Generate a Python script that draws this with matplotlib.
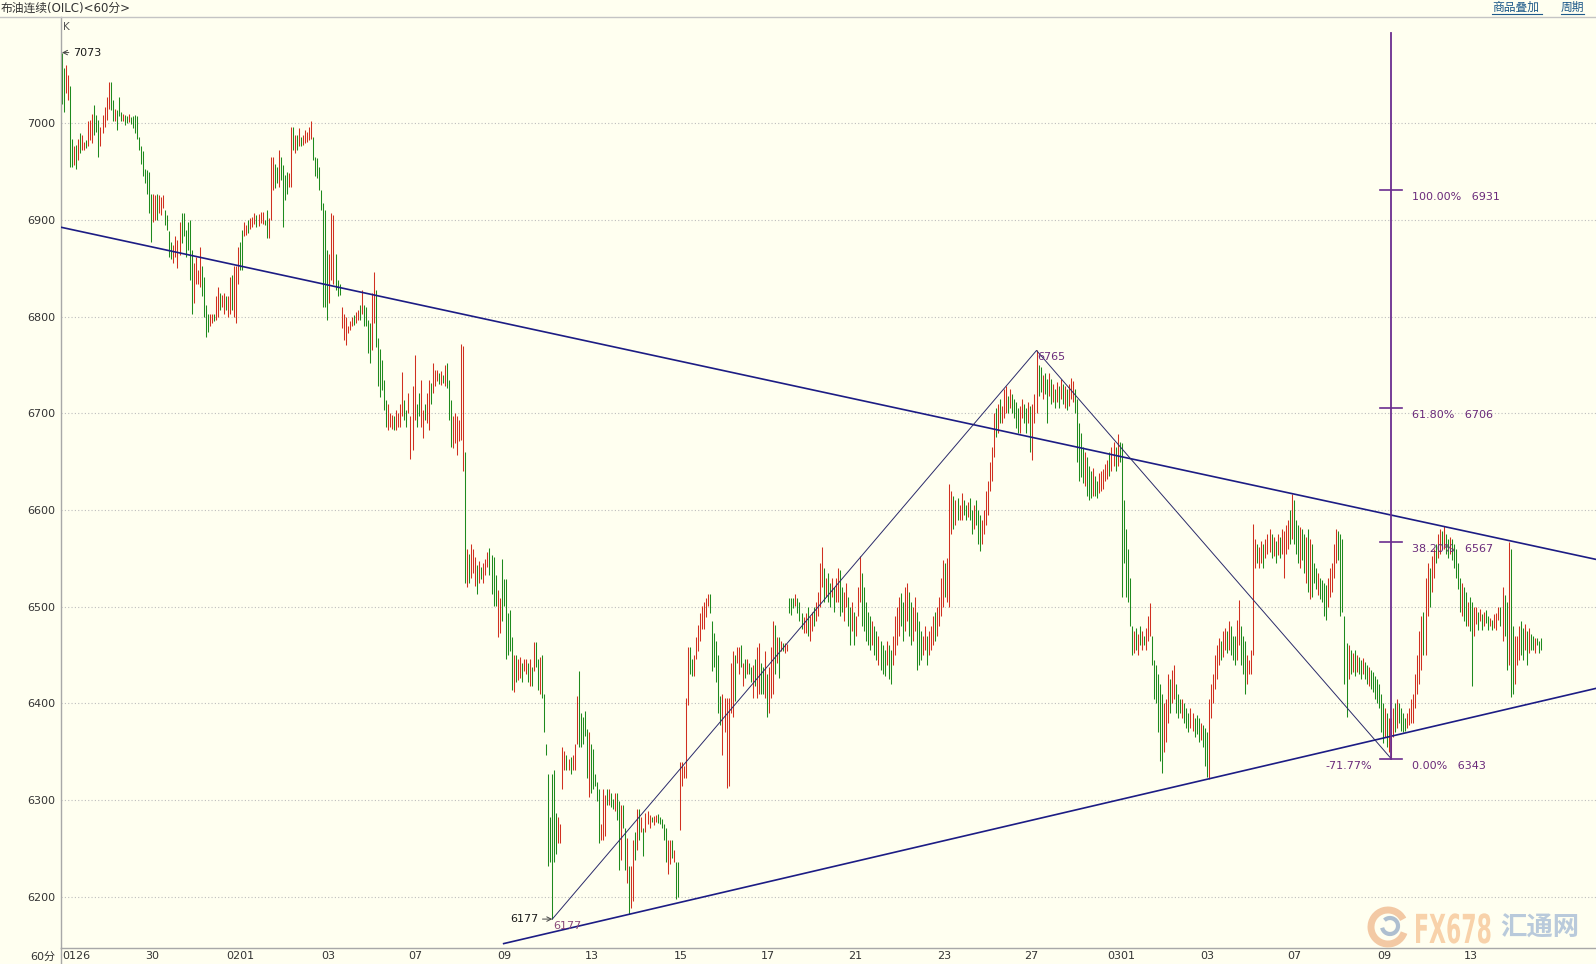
import numpy as np
import matplotlib.pyplot as plt
from matplotlib.lines import Line2D
from matplotlib.patches import Arc, PathPatch
from matplotlib.textpath import TextPath
from matplotlib.font_manager import FontProperties
from matplotlib.transforms import Affine2D

plt.rcParams['font.family'] = ['DejaVu Sans', 'Noto Sans CJK SC']

# 布油连续 60分钟K线: (最高, 最低, 涨跌) ，u = 阳线(红) d = 阴线(绿)
bars_0126 = [
    (7073, 7020, 'd'), (7057, 7012, 'd'), (7060, 7031, 'u'), (7050, 7024, 'u'), (7038, 6955, 'd'),
    (6984, 6955, 'd'), (6976, 6957, 'u'), (6977, 6953, 'd'), (6984, 6962, 'u'), (6990, 6969, 'd'),
    (6988, 6972, 'u'), (6981, 6972, 'u'), (6983, 6974, 'd'), (7002, 6976, 'u'), (7003, 6983, 'u'),
    (7010, 6979, 'u'), (7019, 6988, 'd'), (7008, 6991, 'd'), (7003, 6965, 'd'), (6996, 6976, 'u'),
    (7008, 6990, 'u'), (7017, 6996, 'u'), (7027, 7003, 'u'), (7043, 7015, 'u'), (7043, 7014, 'd'),
    (7024, 7002, 'd'), (7015, 7002, 'u'), (7014, 6993, 'd'), (7027, 7007, 'd'), (7012, 7002, 'd'),
    (7010, 7002, 'u'), (7008, 6998, 'd'), (7007, 7000, 'd'), (7009, 7001, 'u'), (7006, 6999, 'd'),
    (7007, 6995, 'd'), (7008, 6990, 'd'), (7007, 6984, 'd'), (6986, 6972, 'd'), (6976, 6958, 'd'),
    (6971, 6945, 'd'), (6953, 6938, 'd'), (6952, 6927, 'd'), (6950, 6907, 'd'), (6927, 6877, 'd'),
    (6927, 6898, 'u'), (6926, 6900, 'u'), (6927, 6900, 'd'), (6926, 6907, 'u'), (6924, 6905, 'u'),
    (6926, 6912, 'u'), (6910, 6895, 'd'), (6905, 6890, 'd'), (6888, 6862, 'd'), (6877, 6860, 'd'),
    (6874, 6855, 'u'), (6883, 6862, 'u'), (6879, 6850, 'u'), (6898, 6864, 'u'), (6907, 6876, 'd'),
    (6907, 6883, 'd'), (6890, 6862, 'd'), (6898, 6869, 'd'), (6900, 6838, 'd'), (6869, 6803, 'd'),
    (6855, 6814, 'u'), (6862, 6834, 'u'), (6848, 6834, 'u'), (6872, 6831, 'u'), (6852, 6821, 'd'),
    (6841, 6800, 'd'), (6812, 6779, 'd'), (6803, 6784, 'd'), (6803, 6790, 'u'), (6803, 6793, 'u'),
    (6803, 6795, 'd'), (6821, 6796, 'u'), (6831, 6800, 'u'), (6824, 6807, 'd'), (6822, 6810, 'u'),
]
bars_0202 = [
    (6824, 6803, 'u'), (6821, 6807, 'd'), (6821, 6800, 'u'), (6841, 6803, 'u'), (6843, 6807, 'd'),
    (6852, 6800, 'u'), (6852, 6793, 'u'), (6872, 6834, 'u'), (6877, 6848, 'd'), (6890, 6848, 'd'),
    (6898, 6883, 'u'), (6895, 6884, 'u'), (6900, 6886, 'd'), (6902, 6891, 'u'), (6903, 6893, 'u'),
    (6907, 6896, 'u'), (6905, 6893, 'd'), (6906, 6894, 'u'), (6908, 6897, 'u'), (6908, 6896, 'u'),
    (6900, 6895, 'd'), (6910, 6881, 'd'), (6902, 6881, 'u'), (6965, 6900, 'u'), (6965, 6931, 'u'),
    (6958, 6933, 'd'), (6955, 6938, 'd'), (6972, 6934, 'u'), (6965, 6941, 'd'), (6957, 6893, 'd'),
    (6946, 6921, 'd'), (6950, 6927, 'd'), (6948, 6934, 'u'), (6996, 6934, 'u'), (6996, 6972, 'd'),
    (6988, 6969, 'u'), (6988, 6972, 'd'), (6995, 6976, 'u'), (6986, 6976, 'd'), (6988, 6977, 'u'),
    (6993, 6979, 'u'), (6991, 6981, 'u'), (6996, 6983, 'u'), (7002, 6984, 'u'), (6986, 6962, 'd'),
    (6965, 6945, 'd'), (6964, 6943, 'd'), (6955, 6931, 'd'), (6931, 6910, 'd'), (6917, 6810, 'd'),
    (6910, 6810, 'd'), (6869, 6796, 'd'), (6865, 6814, 'u'), (6907, 6838, 'u'), (6905, 6834, 'u'),
    (6865, 6827, 'd'), (6838, 6821, 'd'), (6834, 6822, 'd'), (6810, 6788, 'u'), (6803, 6776, 'u'),
    (6800, 6771, 'u'), (6790, 6783, 'u'), (6795, 6786, 'u'), (6800, 6790, 'u'), (6802, 6791, 'd'),
    (6805, 6793, 'u'), (6807, 6796, 'u'), (6812, 6796, 'd'), (6827, 6803, 'u'), (6812, 6790, 'd'),
    (6810, 6790, 'd'), (6796, 6762, 'd'), (6793, 6752, 'd'), (6824, 6765, 'u'), (6846, 6793, 'u'),
    (6827, 6769, 'd'), (6778, 6728, 'd'), (6767, 6717, 'd'), (6755, 6724, 'd'), (6734, 6703, 'd'),
    (6714, 6686, 'd'), (6710, 6683, 'u'), (6700, 6686, 'u'), (6698, 6684, 'u'), (6697, 6683, 'd'),
    (6703, 6683, 'u'), (6700, 6686, 'u'), (6710, 6686, 'u'), (6743, 6697, 'u'), (6714, 6693, 'd'),
    (6703, 6686, 'd'), (6721, 6700, 'u'), (6697, 6653, 'u'), (6728, 6662, 'u'), (6760, 6693, 'u'),
    (6710, 6686, 'd'), (6721, 6697, 'd'), (6734, 6686, 'u'), (6703, 6674, 'u'), (6710, 6693, 'd'),
    (6721, 6690, 'u'), (6734, 6683, 'u'), (6731, 6710, 'd'), (6752, 6721, 'u'), (6745, 6728, 'u'),
    (6745, 6733, 'u'), (6742, 6730, 'd'), (6744, 6729, 'u'), (6740, 6731, 'd'), (6750, 6728, 'u'),
    (6752, 6726, 'd'), (6734, 6693, 'd'), (6714, 6665, 'd'), (6697, 6664, 'u'), (6700, 6669, 'u'),
    (6697, 6657, 'u'), (6693, 6671, 'u'), (6772, 6672, 'u'), (6770, 6640, 'u'),
]
bars_0208 = [
    (6660, 6525, 'd'), (6560, 6520, 'u'), (6555, 6525, 'd'), (6565, 6530, 'u'), (6560, 6535, 'u'),
    (6551, 6521, 'u'), (6543, 6513, 'd'), (6547, 6525, 'u'), (6541, 6529, 'd'), (6545, 6525, 'u'),
    (6549, 6533, 'u'), (6557, 6541, 'u'), (6561, 6533, 'd'), (6553, 6513, 'd'), (6551, 6501, 'd'),
    (6533, 6501, 'd'), (6517, 6469, 'u'), (6509, 6473, 'u'), (6549, 6485, 'd'), (6529, 6501, 'd'),
    (6529, 6446, 'd'), (6493, 6450, 'd'), (6497, 6454, 'd'), (6469, 6414, 'd'), (6450, 6412, 'u'),
    (6450, 6422, 'd'), (6446, 6424, 'u'), (6448, 6426, 'u'), (6442, 6422, 'd'), (6446, 6434, 'u'),
    (6446, 6430, 'u'), (6442, 6422, 'd'), (6446, 6418, 'u'), (6438, 6418, 'd'), (6464, 6434, 'u'),
    (6464, 6438, 'd'), (6446, 6414, 'd'), (6448, 6410, 'u'), (6450, 6406, 'd'), (6410, 6370, 'd'),
    (6358, 6347, 'd'), (6327, 6232, 'd'), (6283, 6236, 'd'), (6327, 6177, 'd'), (6331, 6236, 'd'),
    (6287, 6244, 'd'), (6283, 6256, 'u'), (6275, 6256, 'u'), (6355, 6311, 'u'), (6351, 6331, 'u'),
    (6347, 6331, 'd'), (6343, 6331, 'u'), (6345, 6327, 'd'), (6347, 6331, 'u'), (6358, 6331, 'u'),
    (6408, 6358, 'u'), (6434, 6355, 'd'), (6390, 6355, 'd'), (6386, 6358, 'd'), (6392, 6366, 'd'),
    (6374, 6323, 'd'), (6370, 6303, 'u'), (6358, 6307, 'd'), (6353, 6311, 'd'), (6327, 6315, 'd'),
    (6319, 6299, 'd'), (6311, 6256, 'd'), (6275, 6259, 'u'), (6311, 6259, 'u'), (6305, 6263, 'u'),
    (6311, 6295, 'd'), (6311, 6295, 'u'), (6307, 6293, 'd'), (6301, 6291, 'd'), (6307, 6289, 'u'),
    (6307, 6279, 'd'), (6299, 6228, 'd'), (6295, 6238, 'u'), (6295, 6271, 'd'), (6271, 6228, 'd'),
    (6261, 6214, 'u'), (6232, 6182, 'd'), (6232, 6188, 'u'), (6259, 6196, 'u'), (6267, 6238, 'd'),
    (6291, 6248, 'u'), (6291, 6259, 'd'), (6283, 6267, 'u'), (6271, 6242, 'd'), (6287, 6267, 'u'),
    (6289, 6275, 'u'), (6285, 6271, 'u'), (6283, 6277, 'd'), (6284, 6274, 'u'), (6285, 6277, 'u'),
    (6286, 6276, 'd'), (6283, 6275, 'd'), (6281, 6271, 'd'), (6275, 6259, 'd'), (6271, 6236, 'd'),
    (6259, 6224, 'u'), (6259, 6234, 'u'), (6259, 6240, 'd'), (6248, 6236, 'u'), (6236, 6198, 'd'),
    (6236, 6200, 'd'), (6339, 6269, 'u'), (6339, 6315, 'u'), (6335, 6323, 'u'), (6406, 6323, 'u'),
    (6458, 6398, 'u'), (6458, 6430, 'd'), (6446, 6428, 'd'), (6450, 6428, 'u'), (6469, 6446, 'u'),
    (6481, 6454, 'u'), (6493, 6465, 'u'), (6501, 6477, 'u'), (6505, 6477, 'u'), (6509, 6489, 'u'),
    (6513, 6501, 'u'), (6513, 6493, 'd'), (6485, 6434, 'd'), (6473, 6438, 'd'), (6465, 6422, 'd'),
    (6450, 6390, 'd'), (6408, 6378, 'd'), (6410, 6347, 'u'), (6406, 6370, 'u'), (6406, 6313, 'u'),
    (6406, 6315, 'u'), (6442, 6390, 'u'), (6454, 6386, 'u'), (6450, 6402, 'd'), (6458, 6442, 'u'),
    (6458, 6430, 'u'), (6460, 6438, 'd'), (6442, 6418, 'u'), (6446, 6426, 'd'), (6446, 6430, 'u'),
    (6442, 6430, 'd'), (6438, 6422, 'd'), (6440, 6406, 'u'), (6446, 6418, 'd'), (6458, 6406, 'u'),
    (6462, 6410, 'u'), (6442, 6410, 'd'), (6438, 6410, 'd'), (6454, 6406, 'u'), (6430, 6386, 'd'),
    (6438, 6390, 'u'), (6458, 6406, 'u'), (6485, 6410, 'u'), (6481, 6430, 'd'), (6469, 6442, 'u'),
    (6469, 6426, 'd'), (6465, 6454, 'u'), (6463, 6454, 'd'), (6462, 6452, 'u'), (6461, 6454, 'u'),
    (6509, 6493, 'd'), (6509, 6491, 'd'), (6509, 6499, 'd'), (6513, 6501, 'u'), (6509, 6493, 'd'),
    (6505, 6485, 'd'), (6493, 6477, 'd'), (6489, 6473, 'u'), (6493, 6473, 'u'),
]
bars_0219 = [
    (6500, 6470, 'd'), (6490, 6465, 'u'), (6495, 6475, 'u'), (6500, 6480, 'd'), (6505, 6485, 'u'),
    (6515, 6490, 'u'), (6545, 6500, 'u'), (6562, 6520, 'u'), (6540, 6505, 'd'), (6530, 6510, 'u'),
    (6535, 6505, 'd'), (6525, 6500, 'd'), (6530, 6510, 'u'), (6520, 6495, 'd'), (6530, 6505, 'u'),
    (6540, 6505, 'u'), (6538, 6490, 'd'), (6520, 6495, 'd'), (6515, 6485, 'u'), (6525, 6500, 'u'),
    (6510, 6480, 'd'), (6500, 6460, 'd'), (6505, 6475, 'u'), (6495, 6460, 'd'), (6490, 6470, 'u'),
    (6520, 6490, 'u'), (6552, 6505, 'u'), (6535, 6480, 'd'), (6520, 6475, 'd'), (6505, 6465, 'd'),
    (6495, 6460, 'd'), (6490, 6455, 'd'), (6485, 6460, 'u'), (6480, 6450, 'd'), (6475, 6445, 'd'),
    (6470, 6440, 'u'), (6465, 6435, 'd'), (6460, 6430, 'd'), (6455, 6428, 'd'), (6465, 6440, 'u'),
    (6460, 6425, 'd'), (6455, 6420, 'd'), (6470, 6440, 'u'), (6490, 6450, 'u'), (6500, 6460, 'u'),
    (6510, 6470, 'u'), (6514, 6480, 'd'), (6505, 6465, 'd'), (6520, 6475, 'u'), (6525, 6485, 'u'),
    (6515, 6470, 'd'), (6505, 6460, 'd'), (6500, 6465, 'u'), (6510, 6475, 'u'), (6495, 6435, 'd'),
    (6485, 6440, 'd'), (6475, 6445, 'd'), (6470, 6450, 'u'), (6480, 6455, 'u'), (6470, 6440, 'd'),
    (6475, 6450, 'u'), (6480, 6455, 'u'), (6490, 6460, 'u'), (6495, 6465, 'd'), (6500, 6470, 'u'),
    (6510, 6480, 'u'), (6530, 6490, 'u'), (6548, 6500, 'u'), (6545, 6510, 'd'), (6550, 6505, 'u'),
    (6627, 6500, 'u'), (6620, 6575, 'u'), (6615, 6580, 'd'), (6610, 6585, 'u'), (6612, 6590, 'd'),
    (6605, 6590, 'u'), (6618, 6590, 'u'), (6610, 6595, 'd'), (6605, 6590, 'd'), (6608, 6593, 'u'),
    (6612, 6590, 'd'), (6600, 6575, 'd'), (6605, 6580, 'u'), (6610, 6585, 'd'), (6600, 6565, 'd'),
    (6595, 6558, 'd'), (6590, 6565, 'u'), (6600, 6575, 'u'), (6620, 6585, 'u'), (6630, 6595, 'u'),
    (6650, 6620, 'u'), (6665, 6630, 'u'), (6700, 6655, 'u'), (6705, 6675, 'd'), (6710, 6680, 'u'),
    (6715, 6690, 'd'), (6708, 6690, 'u'), (6725, 6695, 'u'), (6728, 6700, 'u'), (6718, 6700, 'd'),
    (6725, 6705, 'u'), (6720, 6700, 'd'), (6715, 6695, 'd'), (6712, 6685, 'd'), (6705, 6680, 'd'),
    (6708, 6680, 'u'), (6715, 6695, 'u'), (6710, 6690, 'd'), (6705, 6680, 'd'), (6712, 6690, 'u'),
    (6708, 6660, 'd'), (6710, 6652, 'u'), (6720, 6690, 'u'), (6765, 6700, 'u'), (6750, 6718, 'd'),
]
bars_0227 = [
    (6748, 6722, 'd'), (6740, 6715, 'u'), (6742, 6720, 'd'), (6735, 6690, 'd'), (6742, 6718, 'u'),
    (6735, 6710, 'd'), (6730, 6712, 'u'), (6725, 6705, 'd'), (6732, 6712, 'u'), (6728, 6705, 'd'),
    (6735, 6715, 'u'), (6730, 6710, 'd'), (6728, 6705, 'u'), (6725, 6703, 'd'), (6730, 6708, 'u'),
    (6736, 6715, 'u'), (6733, 6712, 'u'), (6725, 6700, 'd'), (6715, 6650, 'd'), (6690, 6630, 'd'),
    (6680, 6634, 'd'), (6665, 6628, 'd'), (6660, 6625, 'u'), (6655, 6615, 'd'), (6645, 6610, 'd'),
    (6640, 6612, 'd'), (6643, 6615, 'u'), (6635, 6614, 'd'), (6630, 6612, 'd'), (6638, 6618, 'u'),
    (6640, 6620, 'u'), (6642, 6622, 'u'), (6648, 6630, 'u'), (6652, 6632, 'u'), (6660, 6635, 'd'),
    (6665, 6640, 'u'), (6670, 6645, 'u'), (6665, 6640, 'd'), (6679, 6645, 'u'), (6670, 6650, 'd'),
    (6669, 6510, 'd'), (6610, 6545, 'd'), (6580, 6510, 'd'), (6560, 6505, 'd'), (6530, 6480, 'd'),
    (6480, 6450, 'd'), (6475, 6452, 'u'), (6478, 6455, 'd'), (6472, 6450, 'u'), (6480, 6460, 'd'),
    (6475, 6455, 'u'), (6470, 6460, 'd'), (6478, 6455, 'u'), (6490, 6465, 'u'), (6504, 6470, 'u'),
    (6470, 6440, 'd'), (6445, 6405, 'd'), (6440, 6400, 'd'), (6430, 6370, 'd'), (6420, 6340, 'd'),
    (6410, 6328, 'd'), (6400, 6350, 'u'), (6405, 6360, 'u'), (6430, 6380, 'u'), (6425, 6390, 'd'),
    (6435, 6400, 'u'), (6440, 6405, 'u'), (6420, 6390, 'd'), (6410, 6385, 'd'), (6405, 6390, 'd'),
    (6405, 6385, 'u'), (6400, 6380, 'd'), (6395, 6375, 'd'), (6390, 6370, 'd'), (6395, 6375, 'u'),
    (6390, 6372, 'u'), (6385, 6365, 'd'), (6388, 6368, 'd'), (6385, 6360, 'd'), (6380, 6362, 'u'),
    (6378, 6355, 'd'), (6375, 6335, 'd'), (6370, 6324, 'd'), (6405, 6322, 'u'), (6420, 6385, 'u'),
    (6430, 6400, 'u'), (6450, 6415, 'u'), (6460, 6425, 'u'), (6468, 6440, 'u'), (6465, 6445, 'd'),
    (6475, 6448, 'u'), (6478, 6455, 'u'), (6475, 6452, 'd'), (6485, 6455, 'u'), (6480, 6450, 'd'),
    (6470, 6445, 'd'), (6470, 6440, 'd'), (6486, 6445, 'u'), (6507, 6460, 'u'), (6480, 6440, 'd'),
    (6470, 6430, 'd'), (6465, 6410, 'd'), (6450, 6420, 'u'), (6445, 6430, 'u'), (6455, 6430, 'u'),
]
bars_0305 = [
    (6586, 6450, 'u'), (6570, 6540, 'u'), (6565, 6545, 'd'), (6562, 6540, 'u'), (6568, 6545, 'u'),
    (6565, 6540, 'd'), (6570, 6550, 'u'), (6575, 6555, 'u'), (6580, 6557, 'u'), (6575, 6550, 'd'),
    (6572, 6552, 'u'), (6568, 6545, 'd'), (6575, 6553, 'u'), (6572, 6550, 'd'), (6580, 6555, 'u'),
    (6578, 6530, 'u'), (6585, 6555, 'u'), (6590, 6560, 'u'), (6600, 6565, 'd'), (6617, 6570, 'u'),
    (6610, 6565, 'd'), (6590, 6555, 'd'), (6585, 6545, 'd'), (6582, 6540, 'u'), (6580, 6548, 'd'),
    (6575, 6535, 'd'), (6572, 6525, 'u'), (6580, 6515, 'd'), (6570, 6508, 'u'), (6565, 6510, 'd'),
    (6545, 6525, 'd'), (6540, 6518, 'd'), (6535, 6512, 'u'), (6530, 6508, 'd'), (6528, 6505, 'd'),
    (6525, 6490, 'd'), (6522, 6486, 'd'), (6530, 6500, 'u'), (6540, 6510, 'u'), (6545, 6515, 'u'),
    (6565, 6530, 'u'), (6580, 6545, 'u'), (6578, 6548, 'd'), (6575, 6490, 'd'), (6570, 6495, 'd'),
    (6490, 6420, 'd'), (6462, 6386, 'd'), (6460, 6425, 'u'), (6455, 6430, 'd'), (6452, 6432, 'u'),
    (6455, 6428, 'd'), (6450, 6432, 'u'), (6448, 6430, 'd'), (6445, 6425, 'd'), (6447, 6430, 'u'),
    (6443, 6425, 'd'), (6440, 6420, 'd'), (6438, 6418, 'u'), (6435, 6415, 'd'), (6432, 6412, 'd'),
    (6428, 6405, 'd'), (6425, 6400, 'd'), (6420, 6395, 'd'), (6410, 6370, 'd'), (6400, 6359, 'd'),
    (6395, 6365, 'u'), (6390, 6355, 'd'), (6385, 6350, 'u'), (6385, 6343, 'u'), (6395, 6365, 'u'),
    (6400, 6370, 'd'), (6405, 6375, 'u'), (6400, 6380, 'd'), (6395, 6372, 'd'), (6390, 6370, 'd'),
    (6385, 6372, 'd'), (6390, 6375, 'u'), (6395, 6378, 'u'), (6405, 6380, 'u'), (6410, 6380, 'u'),
    (6430, 6395, 'u'), (6450, 6410, 'u'), (6475, 6420, 'u'), (6490, 6435, 'u'), (6495, 6450, 'd'),
    (6530, 6450, 'u'), (6545, 6490, 'u'), (6540, 6500, 'd'), (6552, 6515, 'u'), (6560, 6530, 'u'),
    (6565, 6545, 'd'), (6575, 6550, 'u'), (6580, 6555, 'u'), (6578, 6560, 'd'), (6583, 6560, 'u'),
    (6575, 6555, 'd'), (6570, 6550, 'd'), (6572, 6555, 'u'), (6570, 6548, 'd'), (6565, 6540, 'd'),
    (6560, 6530, 'd'), (6545, 6518, 'd'), (6530, 6495, 'd'), (6525, 6490, 'u'), (6520, 6485, 'd'),
    (6515, 6480, 'd'), (6505, 6480, 'u'), (6510, 6475, 'd'), (6505, 6418, 'd'), (6500, 6470, 'u'),
    (6500, 6482, 'u'), (6495, 6476, 'd'), (6498, 6485, 'u'), (6492, 6476, 'd'), (6495, 6480, 'u'),
    (6497, 6483, 'd'), (6490, 6476, 'd'), (6488, 6480, 'u'), (6486, 6476, 'd'), (6492, 6478, 'u'),
    (6494, 6476, 'u'), (6500, 6486, 'u'), (6500, 6480, 'd'), (6520, 6465, 'u'), (6512, 6470, 'd'),
    (6505, 6435, 'd'), (6567, 6440, 'u'), (6560, 6407, 'd'), (6480, 6410, 'd'), (6470, 6420, 'u'),
    (6470, 6440, 'u'), (6480, 6445, 'u'), (6485, 6450, 'd'), (6478, 6445, 'd'), (6482, 6455, 'u'),
    (6475, 6440, 'd'), (6478, 6452, 'u'), (6472, 6455, 'd'), (6470, 6455, 'd'), (6468, 6452, 'u'),
    (6468, 6460, 'd'), (6465, 6452, 'd'), (6468, 6455, 'd'),
]

date_labels = ['0126', '30', '0201', '03', '07', '09', '13', '15', '17', '21',
               '23', '27', '0301', '03', '07', '09', '13']
date_bar = [0, 41, 81, 128, 171, 215, 258, 302, 345, 388, 432, 475, 516, 562, 605, 649, 692]

fib_pct = ['100.00%', '61.80%', '38.20%', '0.00%']
fib_price = [6931, 6706, 6567, 6343]
fib_top = 7093

bars = bars_0126 + bars_0202 + bars_0208 + bars_0219 + bars_0227 + bars_0305
hi = np.array([b[0] for b in bars], float)
lo = np.array([b[1] for b in bars], float)
up = np.array([b[2] == 'u' for b in bars])
n = len(bars)
x = np.arange(n)

# 关键点
i_first = 0
i_low = int(np.argmin(lo))                       # 6177
i_top = 300 + int(np.argmax(hi[300:]))           # 6765
i_fib = 600 + int(np.argmin(lo[600:]))           # 6343
u1 = 590 + int(np.argmax(hi[590:620]))
u2 = 670 + int(np.argmax(hi[670:700]))
l1 = 270 + int(np.argmin(lo[270:290]))
l2 = 550 + int(np.argmin(lo[550:580]))

W, H = 1596, 964
bg = '#FFFFF0'
red, green = '#D03020', '#1E8A1E'
navy = '#1C1C84'
purple = '#6B2D8F'
pk = 0.72  # px -> pt

fig = plt.figure(figsize=(W / 100, H / 100), dpi=100, facecolor=bg)
ax = fig.add_axes([61 / W, 1 - 948 / H, (W - 61) / W, (948 - 17) / H])
ax.set_facecolor(bg)

sp = (1541 - 62) / (n - 1)
x0, x1 = (61 - 62) / sp, (W - 62) / sp
ax.set_xlim(x0, x1)
ax.set_ylim(6147.1, 7109.8)

ax.vlines(x, lo, hi, colors=np.where(up, red, green), lw=0.75, zorder=2)

# 趋势线
k_up = (hi[u2] - hi[u1]) / (u2 - u1)
xs = np.array([x0, x1])
ax.plot(xs, hi[u1] + k_up * (xs - u1), color=navy, lw=1.2, zorder=3)
k_lo = (lo[l2] - lo[l1]) / (l2 - l1)
lower_start = 218
xs = np.array([lower_start, x1])
ax.plot(xs, lo[l1] + k_lo * (xs - l1), color=navy, lw=1.2, zorder=3)

# 折线 6177 -> 6765 -> 6343
ax.plot([i_low, i_top, i_fib], [lo[i_low], hi[i_top], lo[i_fib]],
        color='#2A2A6A', lw=0.7, zorder=3)

# 黄金分割
ax.plot([i_fib, i_fib], [lo[i_fib], fib_top], color=purple, lw=1.3, zorder=4)
for p, v in zip(fib_pct, fib_price):
    ax.plot([i_fib - 5.3, i_fib + 5.3], [v, v], color=purple, lw=1.2, zorder=4)
    ax.annotate(p + '   ' + str(v), xy=(i_fib, v), xytext=(21 * pk, -7 * pk),
                textcoords='offset points', ha='left', va='center',
                fontsize=8, color='#6A2A7A')
ax.annotate('-71.77%', xy=(i_fib, fib_price[-1]), xytext=(-19 * pk, -7 * pk),
            textcoords='offset points', ha='right', va='center', fontsize=8, color='#6A2A7A')

# 标注
ax.annotate('7073', xy=(i_first, hi[i_first]), xytext=(11 * pk, 0),
            textcoords='offset points', ha='left', va='center', fontsize=8, color='#1a1a1a',
            arrowprops=dict(arrowstyle='->', color='#444', lw=0.7, shrinkA=1, shrinkB=0))
ax.annotate('6177', xy=(i_low, lo[i_low]), xytext=(-14 * pk, 0),
            textcoords='offset points', ha='right', va='center', fontsize=8, color='#1a1a1a',
            arrowprops=dict(arrowstyle='->', color='#444', lw=0.7, shrinkA=1, shrinkB=0))
ax.annotate('6177', xy=(i_low, lo[i_low]), xytext=(1 * pk, -7 * pk),
            textcoords='offset points', ha='left', va='center', fontsize=8, color='#8A4A7A')
ax.annotate('6765', xy=(i_top, hi[i_top]), xytext=(1 * pk, -7 * pk),
            textcoords='offset points', ha='left', va='center', fontsize=8, color='#6A2A7A')

# 坐标轴
for s in ['top', 'right']:
    ax.spines[s].set_visible(False)
for s in ['left', 'bottom']:
    ax.spines[s].set_color('#A8A8A8')
    ax.spines[s].set_linewidth(1.0)
ax.set_yticks(range(6200, 7001, 100))
ax.tick_params(axis='y', length=0, pad=4.3, labelsize=8, labelcolor='#333333')
ax.set_xticks(date_bar)
ax.set_xticklabels(date_labels, ha='left')
ax.tick_params(axis='x', length=0, pad=2, labelsize=8, labelcolor='#333333')
ax.grid(axis='y', color='#BEBEBE', linestyle=(0, (1, 2)), lw=0.8)
ax.set_axisbelow(True)

fig.add_artist(Line2D([61 / W, 61 / W], [0, 1 - 948 / H], color='#A8A8A8', lw=1.0))
fig.add_artist(Line2D([0, 1], [1 - 16.5 / H, 1 - 16.5 / H], color='#C4C4C4', lw=1.0))

fig.text(0.5 / W, 1 - 8 / H, '布油连续(OILC)<60分>', ha='left', va='center', fontsize=8.5, color='#333333')
fig.text(1492 / W, 1 - 7 / H, '商品叠加', ha='left', va='center', fontsize=8.5, color='#1E5A8A')
fig.text(1561 / W, 1 - 7 / H, '周期', ha='left', va='center', fontsize=8.5, color='#1E5A8A')
fig.add_artist(Line2D([1492 / W, 1542 / W], [1 - 14 / H, 1 - 14 / H], color='#1E5A8A', lw=0.8))
fig.add_artist(Line2D([1561 / W, 1584 / W], [1 - 14 / H, 1 - 14 / H], color='#1E5A8A', lw=0.8))
fig.text(63 / W, 1 - 27 / H, 'K', ha='left', va='center', fontsize=7.5, color='#555555')
fig.text(55 / W, 1 - 957 / H, '60分', ha='right', va='center', fontsize=8, color='#333333')

# 水印
fig.add_artist(Arc((1388 / W, 1 - 927 / H), 34 / W, 34 / H, theta1=40, theta2=330,
                   transform=fig.transFigure, color='#F3C9A4', lw=5))
fig.add_artist(Arc((1390 / W, 1 - 926 / H), 16 / W, 16 / H, theta1=200, theta2=480,
                   transform=fig.transFigure, color='#AEBFD0', lw=3))
tp = TextPath((0, 0), 'FX678', size=40, prop=FontProperties(family='DejaVu Sans', weight='bold'))
fig.add_artist(PathPatch(tp, transform=Affine2D().scale(0.55, 1.0).translate(1414, H - 943),
                         facecolor='#F8D2AA', edgecolor='none'))
fig.text(1500 / W, 1 - 928 / H, '汇通网', ha='left', va='center', fontsize=19,
         fontweight='bold', color='#B9CADB', family=['Noto Sans CJK SC'])

fig.savefig('out.png', dpi=100, facecolor=bg)
